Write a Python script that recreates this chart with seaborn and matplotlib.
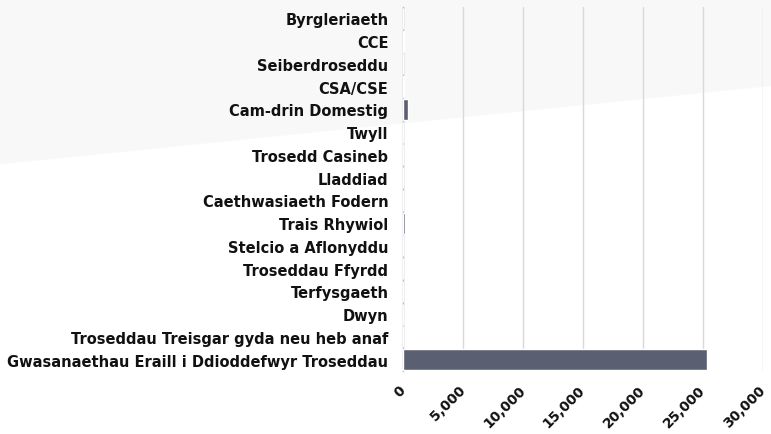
import matplotlib
matplotlib.use("Agg")
import matplotlib.pyplot as plt
import seaborn as sns
import pandas as pd
from matplotlib.ticker import FuncFormatter, MultipleLocator
from matplotlib.patches import Polygon

categories = [
    "Byrgleriaeth", "CCE", "Seiberdroseddu", "CSA/CSE", "Cam-drin Domestig",
    "Twyll", "Trosedd Casineb", "Lladdiad", "Caethwasiaeth Fodern",
    "Trais Rhywiol", "Stelcio a Aflonyddu", "Troseddau Ffyrdd", "Terfysgaeth",
    "Dwyn", "Troseddau Treisgar gyda neu heb anaf",
    "Gwasanaethau Eraill i Ddioddefwyr Troseddau",
]
values = [0, 110, 0, 110, 400, 0, 0, 0, 0, 150, 0, 0, 0, 0, 0, 25330]

df = pd.DataFrame({"category": categories, "value": values})

sns.set_theme(style="white")
plt.rcParams["font.family"] = ["DejaVu Sans"]

fig = plt.figure(figsize=(7.71, 4.35), dpi=100)
fig.patch.set_facecolor("white")
bg = Polygon([[0, 1], [0, 0.62], [1, 0.80], [1, 1]], closed=True,
             transform=fig.transFigure, facecolor="#f8f8f8", edgecolor="none", zorder=-10)
fig.patches.append(bg)

ax = fig.add_axes([0.5227, 0.1448, 0.4669, 0.8368])
ax.set_facecolor("none")
sns.barplot(data=df, x="value", y="category", color="#5a5f72", width=0.92,
            saturation=1, ax=ax, zorder=3)

ax.set_xlim(0, 30000)
ax.xaxis.set_major_locator(MultipleLocator(5000))
ax.xaxis.set_major_formatter(FuncFormatter(lambda v, p: f"{int(v):,}"))
ax.grid(axis="x", color="#d9d9d9", linewidth=1, zorder=0)
ax.set_axisbelow(True)
for s in ["top", "right", "bottom"]:
    ax.spines[s].set_visible(False)
ax.spines["left"].set_color("#bbbbbb")
ax.spines["left"].set_linewidth(1)
ax.set_xlabel("")
ax.set_ylabel("")
ax.tick_params(axis="both", length=0)
ax.tick_params(axis="y", pad=10.5)
ax.tick_params(axis="x", pad=12)

fig.canvas.draw()
r = fig.canvas.get_renderer()
longest = max(ax.get_yticklabels(), key=lambda t: len(t.get_text()))
longest.set_fontsize(10)
longest.set_fontweight("bold")
w = longest.get_window_extent(r).width
fs = 10 * 380.0 / w

xl = [t for t in ax.get_xticklabels() if t.get_text() == "25,000"][0]
xl.set_fontsize(10)
xl.set_fontweight("bold")
xw = xl.get_window_extent(r).width
fsx = 10 * 53.0 / xw

for lab in ax.get_yticklabels():
    lab.set_fontsize(fs)
    lab.set_fontweight("bold")
    lab.set_color("#111111")
for lab in ax.get_xticklabels():
    lab.set_fontsize(fsx)
    lab.set_fontweight("bold")
    lab.set_color("#111111")
    lab.set_rotation(45)
    lab.set_ha("right")
    lab.set_va("center")
    lab.set_rotation_mode("anchor")

fig.savefig("out.png", dpi=100)
